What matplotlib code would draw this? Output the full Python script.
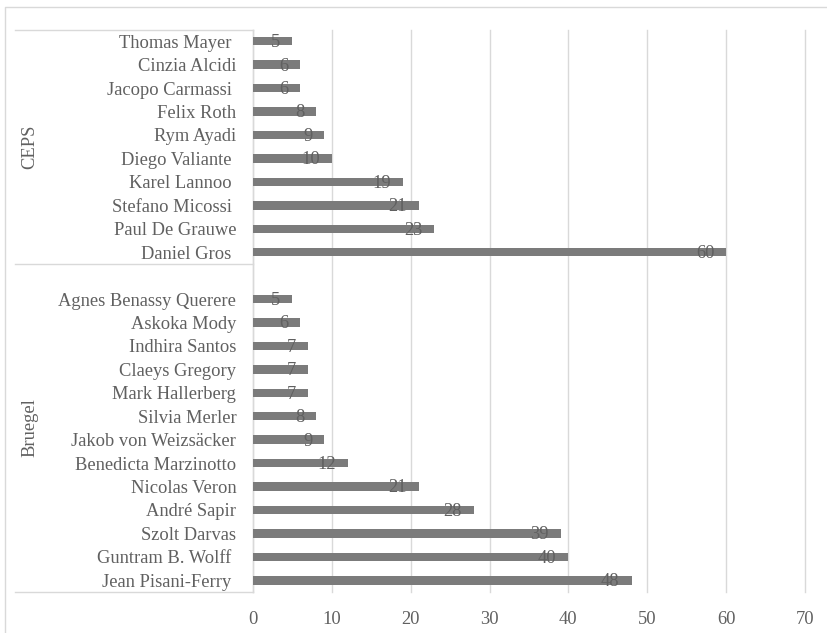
import matplotlib
matplotlib.use("Agg")
import matplotlib.pyplot as plt
from matplotlib.lines import Line2D

ceps_names = ["Thomas Mayer ", "Cinzia Alcidi", "Jacopo Carmassi ", "Felix Roth", "Rym Ayadi",
              "Diego Valiante ", "Karel Lannoo ", "Stefano Micossi ", "Paul De Grauwe", "Daniel Gros "]
ceps_values = [5, 6, 6, 8, 9, 10, 19, 21, 23, 60]
bruegel_names = ["Agnes Benassy Querere", "Askoka Mody", "Indhira Santos", "Claeys Gregory",
                 "Mark Hallerberg", "Silvia Merler", "Jakob von Weizsäcker", "Benedicta Marzinotto",
                 "Nicolas Veron", "André Sapir", "Szolt Darvas", "Guntram B. Wolff ", "Jean Pisani-Ferry "]
bruegel_values = [5, 6, 7, 7, 7, 8, 9, 12, 21, 28, 39, 40, 48]
groups = ["CEPS", "Bruegel"]
x_ticks = [0, 10, 20, 30, 40, 50, 60, 70]

FONT = "Liberation Serif"
FS = 13.3
TXT = "#606060"
BAR = "#7b7b7b"
GRID = "#d9d9d9"

W, H = 828, 633
fig = plt.figure(figsize=(W / 100, H / 100), dpi=100)
left, right, top, bottom = 253, 805, 29.5, 592
ax = fig.add_axes([left / W, 1 - bottom / H, (right - left) / W, (bottom - top) / H])

# build slots from bottom: Bruegel reversed, blank slot, CEPS reversed
names = list(reversed(bruegel_names)) + [""] + list(reversed(ceps_names))
values = list(reversed(bruegel_values)) + [None] + list(reversed(ceps_values))
ypos = list(range(len(names)))
n_b = len(bruegel_names)

for y, v in zip(ypos, values):
    if v is None:
        continue
    ax.barh(y, v, height=0.36, color=BAR, zorder=3)
    ax.annotate(str(v), xy=(v, y), xytext=(-8.5, -1), textcoords="offset points",
                ha="right", va="center", fontsize=FS, family=FONT, color=TXT, zorder=4)

ax.set_xlim(0, 70)
ax.set_ylim(-0.5, len(names) - 0.5)
ax.set_xticks(x_ticks)
ax.set_xticklabels([str(t) for t in x_ticks], family=FONT, fontsize=FS, color=TXT)
ax.set_yticks(ypos)
ax.set_yticklabels(names, family=FONT, fontsize=FS, color=TXT)
ax.tick_params(axis="both", length=0)
ax.tick_params(axis="y", pad=12)
ax.tick_params(axis="x", pad=14)
ax.grid(axis="x", color=GRID, linewidth=1, zorder=0)
for gl in ax.get_xgridlines():
    gl.set_clip_on(False)
for s in ["top", "right", "bottom"]:
    ax.spines[s].set_visible(False)
ax.spines["left"].set_color(GRID)
ax.spines["left"].set_linewidth(1)

# category table lines
xl = (15 - left) / (right - left)
tr = ax.get_yaxis_transform()
for yb in [-0.5, n_b + 0.5, len(names) - 0.5]:
    ax.add_line(Line2D([xl, 0], [yb, yb], transform=tr, color=GRID, linewidth=1, clip_on=False))

# group labels
xg = (30 - left) / (right - left)
ax.text(xg, (n_b + 0.5 + len(names) - 0.5) / 2, groups[0], transform=tr, rotation=90,
        ha="center", va="center", family=FONT, fontsize=FS, color=TXT)
ax.text(xg, (-0.5 + n_b + 0.5) / 2, groups[1], transform=tr, rotation=90,
        ha="center", va="center", family=FONT, fontsize=FS, color=TXT)

# outer frame
fig.add_artist(Line2D([5 / W, 5 / W, 1], [0, 1 - 7 / H, 1 - 7 / H], transform=fig.transFigure,
                      color=GRID, linewidth=1))

fig.savefig("out.png", dpi=100)
